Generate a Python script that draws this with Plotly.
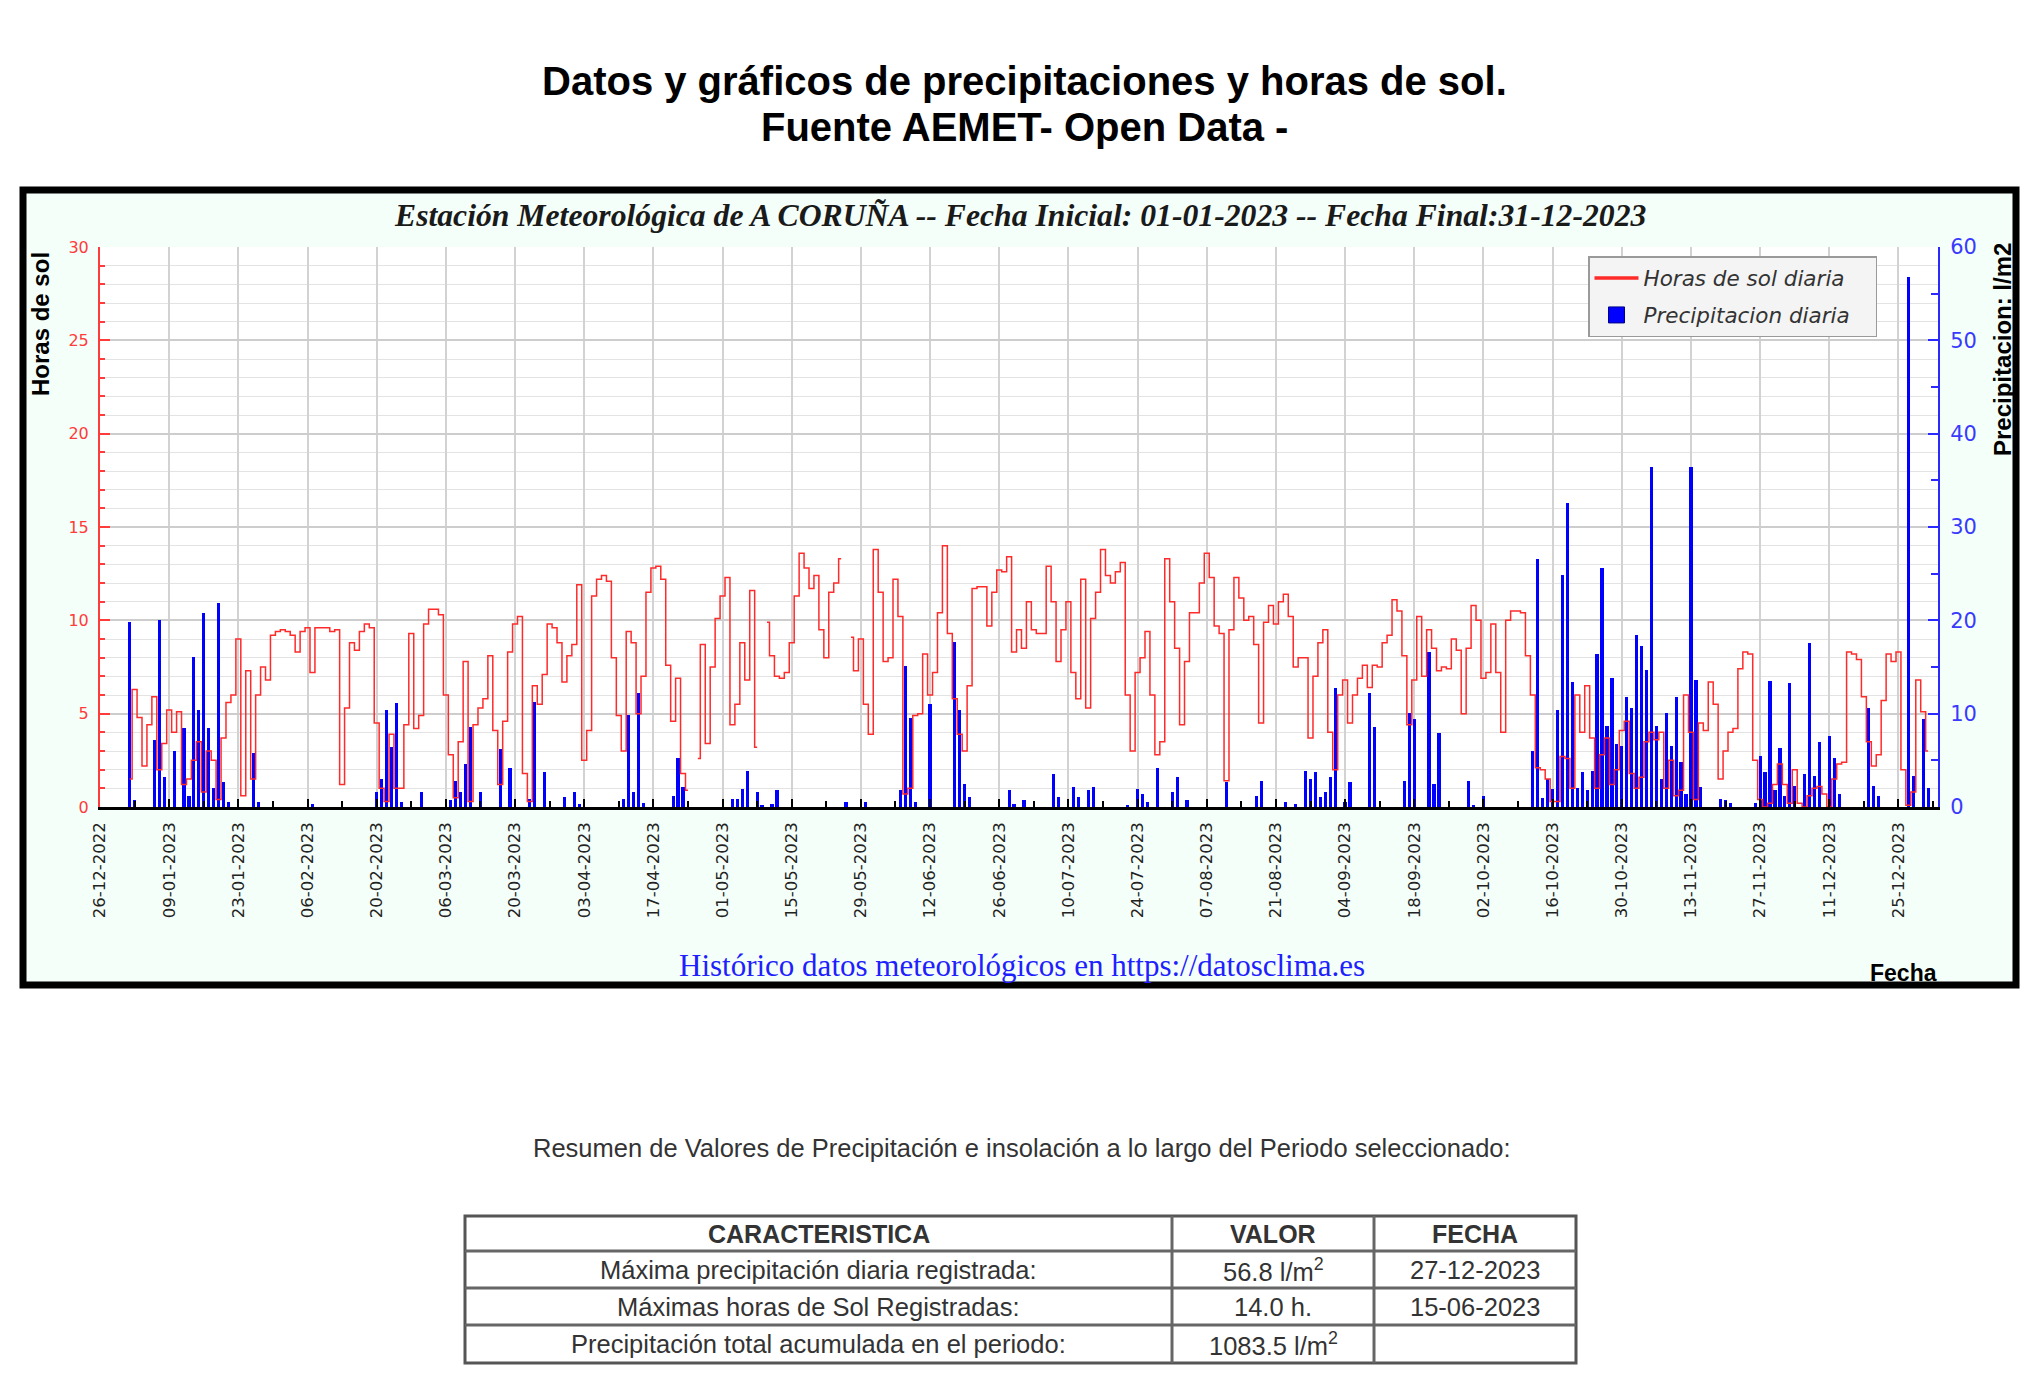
import plotly.graph_objects as go
import pandas as pd

# ---------------- data ----------------
dates = pd.date_range("2023-01-01", "2023-12-31", freq="D")

# daily sunshine hours (None = missing day)
sun_hours = (
    # Jan
    [1.5, 6.3, 4.8, 2.2, 4.4, 5.9, 2.0, 3.4, 5.2, 4.0, 5.1, 1.2, 1.5, 2.5, 3.5, 0.8,
     3.0, 2.5, 0.4, 3.7, 5.6, 6.0, 9.0, 0.6, 7.3, 1.5, 6.0, 7.5, 6.8, 9.2, 9.4]
    # Feb
    + [9.5, 9.4, 9.2, 8.3, 9.4, 9.6, 7.2, 9.6, 9.6, 9.6, 9.4, 9.5, 1.2, 5.3, 8.8, 8.4,
       9.4, 9.8, 9.6, 4.5, 1.0, 0.3, 3.9, 1.0, 1.0, 4.4, 9.3, 4.2]
    # Mar
    + [4.9, 9.8, 10.6, 10.6, 10.3, 6.0, 2.8, 0.5, 3.5, 7.8, 0.3, 4.4, 5.3, 5.8, 8.1, 4.1,
       1.2, 4.6, 8.3, 9.8, 10.2, 1.8, 0.3, 6.5, 5.5, 7.1, 9.8, 9.6, 8.8, 6.7, 8.1]
    # Apr
    + [8.7, 11.9, 2.5, 4.1, 11.3, 12.2, 12.4, 12.1, 8.0, 4.9, 3.0, 9.4, 8.8, 5.0, 7.0,
       11.5, 12.8, 12.9, 12.2, 7.6, 4.6, 6.9, 1.8, 0.9, None, 2.6, 8.7, 3.4, 7.5, 10.1]
    # May
    + [11.3, 12.3, 4.4, 5.5, 8.8, 6.8, 11.6, 3.2, None, 9.9, 8.1, 7.0, 6.9, 7.2, 8.8, 11.3,
       13.6, 12.8, 11.7, 12.4, 9.5, 8.0, 11.5, 12.0, 13.3, None, 9.1, 7.3, 9.0, 5.5, 3.9]
    # Jun
    + [13.8, 11.5, 7.8, 8.0, 12.2, 10.2, 0.7, 1.0, 4.9, 5.0, 8.2, 6.0, 7.2, 10.4, 14.0,
       9.3, 5.8, 3.9, 3.0, 6.5, 11.7, 11.8, 11.8, 9.7, 11.5, 12.7, 12.6, 13.4, 8.3, 9.5]
    # Jul
    + [8.5, 11.0, 9.5, 9.3, 9.3, 12.9, 11.0, 7.8, 9.5, 11.0, 7.2, 5.8, 12.2, 5.3, 10.1,
       11.5, 13.8, 12.4, 12.0, 12.6, 13.1, 6.0, 3.0, 7.2, 8.0, 9.4, 6.0, 2.8, 3.5, 13.3, 11.0]
    # Aug
    + [8.5, 4.4, 7.8, 10.4, 10.4, 12.0, 13.6, 12.3, 9.7, 9.3, 1.4, 9.5, 12.3, 11.2, 10.0,
       10.2, 8.7, 4.5, 9.9, 10.8, 9.8, 11.0, 11.4, 10.2, 7.5, 8.0, 8.0, 3.7, 7.0, 8.8, 9.5]
    # Sep
    + [4.0, 2.0, 6.0, 6.8, 4.5, 6.0, 6.9, 7.6, 6.4, 7.6, 7.5, 8.8, 9.2, 11.1, 10.5, 8.1,
       4.4, 6.8, 10.2, 7.0, 9.5, 8.5, 7.3, 7.5, 7.4, 9.0, 8.4, 5.0, 8.5, 10.8]
    # Oct
    + [10.0, 6.9, 7.2, 9.8, 7.2, 4.0, 10.0, 10.5, 10.5, 10.4, 8.1, 6.0, 2.1, 2.0, 1.5, 0.3,
       0.3, 2.7, 2.6, 1.0, 6.0, 4.0, 6.5, 3.7, 1.0, 2.8, 3.7, 1.2, 2.0, 4.1, 4.6]
    # Nov
    + [1.8, 1.0, 1.6, 3.5, 4.0, 3.6, 4.0, 1.0, 2.5, 0.6, 0.9, 6.0, 4.0, 0.4, 4.5, 4.1,
       6.7, 5.5, 1.5, 3.0, 4.0, 4.2, 7.4, 8.3, 8.2, 2.5, 0.4, 0.0, 0.2, 1.2]
    # Dec
    + [2.3, 1.2, 0.2, 2.0, 0.2, 0.0, 0.6, 1.0, 1.1, 0.7, 0.0, 1.5, 2.3, 2.4, 8.3, 8.2,
       7.9, 5.9, 3.5, 2.2, 2.8, 5.7, 8.2, 7.8, 8.3, 2.0, 0.1, 0.8, 6.8, 5.1, 3.0]
)

# daily precipitation (l/m2)
precipitation = (
    # Jan
    [19.8, 0.7, 0, 0, 0, 7.2, 20.0, 3.2, 0, 6.0, 0, 8.5, 1.2, 16.1, 10.4, 20.8,
     8.5, 2.0, 21.9, 2.7, 0.5, 0, 0, 0, 0, 5.8, 0.5, 0, 0, 0, 0]
    # Feb
    + [0, 0, 0, 0, 0, 0, 0.3, 0, 0, 0, 0, 0, 0, 0, 0, 0, 0, 0, 0, 1.6,
       3.0, 10.4, 6.4, 11.1, 0.5, 0, 0, 0]
    # Mar
    + [1.6, 0, 0, 0, 0, 0, 0.7, 2.8, 1.6, 4.6, 8.6, 0, 1.6, 0, 0, 0, 6.2, 0, 4.2, 0,
       0, 0, 0.9, 11.3, 0, 3.7, 0, 0, 0, 1.1, 0]
    # Apr
    + [1.6, 0.3, 0, 0, 0, 0, 0, 0, 0, 0, 0.9, 9.9, 1.6, 12.2, 0.4, 0, 0, 0, 0, 0,
       1.2, 5.3, 2.1, 0, 0, 0, 0, 0, 0, 0]
    # May
    + [0, 0, 0.9, 0.9, 1.9, 3.9, 0, 1.6, 0.2, 0, 0.3, 1.8, 0, 0, 0, 0, 0, 0, 0, 0,
       0, 0, 0, 0, 0, 0.5, 0, 0, 0, 0.5, 0]
    # Jun
    + [0, 0, 0, 0, 0, 1.8, 15.1, 9.5, 0.5, 0, 0, 11.0, 0, 0, 0, 0, 17.7, 10.4, 2.5, 1.1,
       0, 0, 0, 0, 0, 0, 0, 1.8, 0.3, 0]
    # Jul
    + [0.7, 0, 0, 0, 0, 0, 3.5, 1.1, 0, 0, 2.1, 1.1, 0, 1.8, 2.1, 0, 0, 0, 0, 0,
       0, 0.2, 0, 1.9, 1.4, 0.5, 0, 4.2, 0, 0, 1.6]
    # Aug
    + [3.2, 0, 0.7, 0, 0, 0, 0, 0, 0, 0, 2.7, 0, 0, 0, 0, 0, 1.2, 2.8, 0, 0,
       0, 0, 0.5, 0, 0.3, 0, 3.9, 3.0, 3.7, 1.1, 1.6]
    # Sep
    + [3.2, 12.7, 0, 0.5, 2.7, 0, 0, 0, 12.2, 8.6, 0, 0, 0, 0, 0, 2.8, 10.1, 9.4, 0, 0,
       16.6, 2.5, 7.9, 0, 0, 0, 0, 0, 2.8, 0.2]
    # Oct
    + [0, 1.2, 0, 0, 0, 0, 0, 0, 0, 0, 0, 6.0, 26.6, 1.0, 3.0, 1.9, 10.4, 24.9, 32.6, 13.4,
       2.0, 3.7, 1.8, 3.9, 16.4, 25.6, 8.7, 13.8, 6.7, 6.5, 11.8]
    # Nov
    + [10.6, 18.4, 17.2, 14.7, 36.4, 8.7, 3.0, 10.1, 6.5, 11.8, 4.8, 1.4, 36.4, 13.6, 2.1,
       0, 0, 0, 0.9, 0.8, 0.4, 0, 0, 0, 0, 0.4, 5.5, 3.7, 13.5, 1.8]
    # Dec
    + [6.3, 1.2, 13.3, 2.3, 0, 3.5, 17.6, 3.3, 7.0, 0, 7.6, 5.3, 1.4, 0, 0, 0, 0, 0, 10.6, 2.2,
       1.2, 0, 0, 0, 0, 0, 56.8, 3.3, 0, 9.4, 2.0]
)

x_range = ["2022-12-26", "2024-01-02"]
hours_range = [0, 30]
precip_range = [0, 60]

page_title = ["Datos y gráficos de precipitaciones y horas de sol.", "Fuente AEMET- Open Data -"]
chart_title = "Estación Meteorológica de A CORUÑA -- Fecha Inicial: 01-01-2023 -- Fecha Final:31-12-2023"
footer_text = "Histórico datos meteorológicos en https://datosclima.es"
summary_text = "Resumen de Valores de Precipitación e insolación a lo largo del Periodo seleccionado:"
series_names = ["Horas de sol diaria", "Precipitacion diaria"]

table_header = ["CARACTERISTICA", "VALOR", "FECHA"]
table_labels = ["Máxima precipitación diaria registrada:",
                "Máximas horas de Sol Registradas:",
                "Precipitación total acumulada en el periodo:"]
table_values = ["56.8 l/m<sup>2</sup>", "14.0 h.", "1083.5 l/m<sup>2</sup>"]
table_dates = ["27-12-2023", "15-06-2023", ""]

# ---------------- layout helpers ----------------
OFF = 8                      # page body margin of the browser
W, H = 2024, 1364
def px(x):
    return (x - OFF) / W
def py(y):
    return 1 - (y - OFF) / H

PL, PR, PT, PB = 100, 1938, 247, 807   # plot area in page pixels
DAY = 86400000
RED = "#ff2a2a"
BLUE = "#0000ff"
NBSP = "\u00a0"

fig = go.Figure()

fig.add_trace(go.Bar(
    x=dates, y=precipitation, name=series_names[1], yaxis="y",
    marker=dict(color=BLUE, line=dict(width=0)), width=0.65 * DAY,
    showlegend=False,
))
fig.add_trace(go.Scatter(
    x=dates, y=sun_hours, name=series_names[0], yaxis="y2", mode="lines",
    line=dict(color=RED, width=1.5, shape="hvh"), connectgaps=False,
    showlegend=False,
))
# legend keys
fig.add_trace(go.Scatter(
    x=[None], y=[None], name=series_names[0] + NBSP * 3, yaxis="y2", mode="lines",
    line=dict(color=RED, width=3.5), legendrank=1, legendgroup="a",
))
fig.add_trace(go.Scatter(
    x=[None], y=[None], name=series_names[1] + NBSP * 3, yaxis="y", mode="markers",
    marker=dict(symbol="square", size=16, color=BLUE, line=dict(color="#000088", width=1)),
    legendrank=2, legendgroup="b",
))

fig.update_layout(
    width=W, height=H,
    margin=dict(l=0, r=0, t=0, b=0),
    paper_bgcolor="white", plot_bgcolor="white",
    barmode="overlay", bargap=0,
    xaxis=dict(
        type="date", domain=[px(PL), px(PR)], range=x_range, anchor="y",
        tick0="2022-12-26", dtick=14 * DAY, tickformat="%d-%m-%Y", tickangle=-90,
        tickfont=dict(family="DejaVu Sans", size=16.5, color="#222222"),
        showgrid=True, gridcolor="#d2d2d2", gridwidth=1.5,
        showline=True, linecolor="black", linewidth=2.5,
        ticks="inside", ticklen=8, tickwidth=2, tickcolor="black",
        minor=dict(tick0="2022-12-26", dtick=7 * DAY, ticks="inside", ticklen=6,
                   tickwidth=2, tickcolor="black", showgrid=False),
        zeroline=False, ticklabelstandoff=6, automargin=False,
    ),
    yaxis=dict(
        domain=[py(PB), py(PT)], range=precip_range, side="right", anchor="x",
        tick0=0, dtick=10,
        tickfont=dict(family="DejaVu Sans", size=21, color="#3a3aff"),
        showgrid=False, zeroline=False,
        showline=True, linecolor="#2a2aff", linewidth=2,
        ticks="inside", ticklen=10, tickwidth=2, tickcolor="#2a2aff",
        minor=dict(dtick=5, ticks="inside", ticklen=7, tickwidth=2,
                   tickcolor="#2a2aff", showgrid=False),
        ticklabelstandoff=6, automargin=False,
    ),
    yaxis2=dict(
        overlaying="y", side="left", range=hours_range, anchor="x",
        tick0=0, dtick=5,
        tickfont=dict(family="DejaVu Sans", size=16, color="#ff3b3b"),
        showgrid=True, gridcolor="#cdcdcd", gridwidth=1.5, zeroline=False,
        showline=True, linecolor="#ff3b3b", linewidth=2,
        ticks="inside", ticklen=10, tickwidth=2, tickcolor="#ff3b3b",
        minor=dict(dtick=1, ticks="inside", ticklen=5, tickwidth=1.5,
                   tickcolor="#ff3b3b", showgrid=True, gridcolor="#e3e3e3", gridwidth=1.2),
        ticklabelstandoff=6, automargin=False,
    ),
    legend=dict(
        x=px(1588), y=py(256), xanchor="left", yanchor="top",
        bgcolor="#f4f4f4", bordercolor="#9a9a9a", borderwidth=1.5,
        font=dict(family="DejaVu Sans", size=21.5, color="#333333", style="italic"),
        traceorder="grouped", tracegroupgap=6, itemwidth=44,
    ),
    showlegend=True,
)

shapes = [
    # chart frame (mint background, thick black border)
    dict(type="rect", xref="paper", yref="paper", x0=px(23), x1=px(2016), y0=py(985), y1=py(190),
         fillcolor="#f5fffa", line=dict(color="black", width=7), layer="below"),
    # white plot area
    dict(type="rect", xref="paper", yref="paper", x0=px(PL), x1=px(PR), y0=py(PB), y1=py(PT),
         fillcolor="white", line=dict(width=0), layer="below"),
]

# summary table geometry
col_edges = [465, 1172, 1374, 1576]
row_edges = [1216, 1251, 1288, 1325, 1363]
shapes.append(dict(type="rect", xref="paper", yref="paper",
                   x0=px(col_edges[0]), x1=px(col_edges[-1]), y0=py(row_edges[-1]), y1=py(row_edges[0]),
                   line=dict(color="#555555", width=3), fillcolor="white", layer="above"))
for cx in col_edges[1:-1]:
    shapes.append(dict(type="line", xref="paper", yref="paper", x0=px(cx), x1=px(cx),
                       y0=py(row_edges[-1]), y1=py(row_edges[0]), line=dict(color="#666666", width=3)))
for ry in row_edges[1:-1]:
    shapes.append(dict(type="line", xref="paper", yref="paper", x0=px(col_edges[0]), x1=px(col_edges[-1]),
                       y0=py(ry), y1=py(ry), line=dict(color="#666666", width=3)))
fig.update_layout(shapes=shapes)

ann = []
def text(x, y, s, size, family="Liberation Sans", color="black", bold=False, italic=False, angle=0):
    ann.append(dict(
        x=px(x), y=py(y), xref="paper", yref="paper", text=s, showarrow=False,
        xanchor="center", yanchor="middle", textangle=angle,
        font=dict(family=family, size=size, color=color,
                  weight="bold" if bold else "normal", style="italic" if italic else "normal"),
    ))

text(1024, 81, page_title[0], 40, bold=True)
text(1024, 127, page_title[1], 40, bold=True)
text(1020, 216, chart_title, 31.7, family="Liberation Serif", color="#1a1a1a", bold=True, italic=True)
text(40, 324, "Horas de sol", 24, bold=True, angle=-90)
text(2002, 350, "Precipitacion: l/m2", 24, bold=True, angle=-90)
text(1903, 973, "Fecha", 23, bold=True)
text(1022, 965, footer_text, 31, family="Liberation Serif", color="#2020ff")
text(1022, 1148, summary_text, 25.5, color="#333333")

col_centers = [(col_edges[i] + col_edges[i + 1]) / 2 for i in range(3)]
row_centers = [(row_edges[i] + row_edges[i + 1]) / 2 for i in range(4)]
for i, h in enumerate(table_header):
    text(col_centers[i], row_centers[0], h, 25, color="#333333", bold=True)
for r in range(3):
    text(col_centers[0], row_centers[r + 1], table_labels[r], 25.5, color="#333333")
    text(col_centers[1], row_centers[r + 1], table_values[r], 25.5, color="#333333")
    if table_dates[r]:
        text(col_centers[2], row_centers[r + 1], table_dates[r], 25.5, color="#333333")

fig.update_layout(annotations=ann)

fig.write_html("out.html")
